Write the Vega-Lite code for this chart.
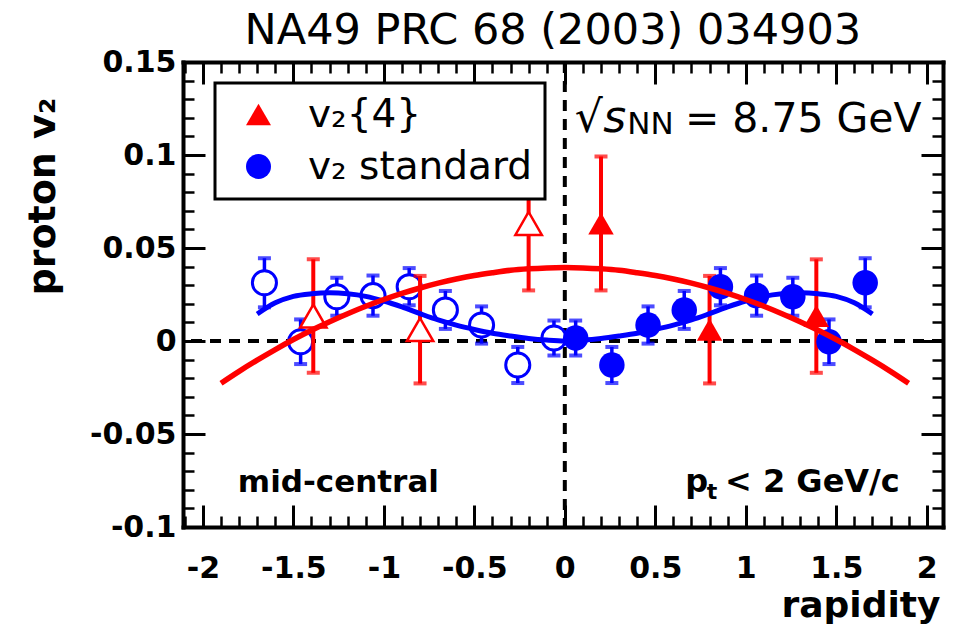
{
  "$schema": "https://vega.github.io/schema/vega-lite/v6.json",
  "width": 760,
  "height": 465,
  "autosize": {"type": "none"},
  "padding": {"left": 183, "top": 62, "right": 15, "bottom": 104},
  "background": "white",
  "config": {
    "view": {"stroke": null},
    "font": "DejaVu Sans",
    "axis": {"grid": false, "domainColor": "black", "tickColor": "black", "labelColor": "black", "titleColor": "black", "labelFlush": false, "labelOverlap": false, "domainCap": "square"},
    "legend": {"orient": "none", "legendX": 32, "legendY": 21, "strokeColor": "black", "strokeWidth": 3, "fillColor": "white", "padding": 12, "labelFont": "DejaVu Sans", "labelFontSize": 39, "labelColor": "black", "symbolSize": 625, "labelOffset": 30, "rowPadding": 12, "symbolStrokeWidth": 0, "labelLimit": 0, "symbolOffset": 12}
  },
  "datasets": {
    "pts": [
      {"series": "v₂ standard", "x": 0.06, "y": 0.0016, "err": 0.0094, "reflected": false},
      {"series": "v₂ standard", "x": 0.26, "y": -0.0129, "err": 0.0097, "reflected": false},
      {"series": "v₂ standard", "x": 0.46, "y": 0.0086, "err": 0.0100, "reflected": false},
      {"series": "v₂ standard", "x": 0.66, "y": 0.0167, "err": 0.0102, "reflected": false},
      {"series": "v₂ standard", "x": 0.86, "y": 0.0292, "err": 0.0100, "reflected": false},
      {"series": "v₂ standard", "x": 1.06, "y": 0.0244, "err": 0.0108, "reflected": false},
      {"series": "v₂ standard", "x": 1.26, "y": 0.0238, "err": 0.0102, "reflected": false},
      {"series": "v₂ standard", "x": 1.46, "y": -0.0004, "err": 0.0120, "reflected": false},
      {"series": "v₂ standard", "x": 1.66, "y": 0.0313, "err": 0.0132, "reflected": false},
      {"series": "v₂ standard", "x": -0.06, "y": 0.0016, "err": 0.0094, "reflected": true},
      {"series": "v₂ standard", "x": -0.26, "y": -0.0129, "err": 0.0097, "reflected": true},
      {"series": "v₂ standard", "x": -0.46, "y": 0.0086, "err": 0.0100, "reflected": true},
      {"series": "v₂ standard", "x": -0.66, "y": 0.0167, "err": 0.0102, "reflected": true},
      {"series": "v₂ standard", "x": -0.86, "y": 0.0292, "err": 0.0100, "reflected": true},
      {"series": "v₂ standard", "x": -1.06, "y": 0.0244, "err": 0.0108, "reflected": true},
      {"series": "v₂ standard", "x": -1.26, "y": 0.0238, "err": 0.0102, "reflected": true},
      {"series": "v₂ standard", "x": -1.46, "y": -0.0004, "err": 0.0120, "reflected": true},
      {"series": "v₂ standard", "x": -1.66, "y": 0.0313, "err": 0.0132, "reflected": true},
      {"series": "v₂{4}", "x": 0.2, "y": 0.0632, "err": 0.0360, "reflected": false},
      {"series": "v₂{4}", "x": 0.8, "y": 0.0061, "err": 0.0289, "reflected": false},
      {"series": "v₂{4}", "x": 1.39, "y": 0.0134, "err": 0.0305, "reflected": false},
      {"series": "v₂{4}", "x": -0.2, "y": 0.0632, "err": 0.0360, "reflected": true},
      {"series": "v₂{4}", "x": -0.8, "y": 0.0061, "err": 0.0289, "reflected": true},
      {"series": "v₂{4}", "x": -1.39, "y": 0.0134, "err": 0.0305, "reflected": true}
    ],
    "redfit": [
      {"x": -1.9, "y": -0.0227}, {"x": -1.8, "y": -0.0163}, {"x": -1.7, "y": -0.0103}, {"x": -1.6, "y": -0.0046},
      {"x": -1.5, "y": 0.0008}, {"x": -1.4, "y": 0.0058}, {"x": -1.3, "y": 0.0104}, {"x": -1.2, "y": 0.0147},
      {"x": -1.1, "y": 0.0187}, {"x": -1.0, "y": 0.0223}, {"x": -0.9, "y": 0.0256}, {"x": -0.8, "y": 0.0285},
      {"x": -0.7, "y": 0.0311}, {"x": -0.6, "y": 0.0333}, {"x": -0.5, "y": 0.0352}, {"x": -0.4, "y": 0.0367},
      {"x": -0.3, "y": 0.0380}, {"x": -0.2, "y": 0.0388}, {"x": -0.1, "y": 0.0393}, {"x": 0.0, "y": 0.0395},
      {"x": 0.1, "y": 0.0393}, {"x": 0.2, "y": 0.0388}, {"x": 0.3, "y": 0.0380}, {"x": 0.4, "y": 0.0367},
      {"x": 0.5, "y": 0.0352}, {"x": 0.6, "y": 0.0333}, {"x": 0.7, "y": 0.0311}, {"x": 0.8, "y": 0.0285},
      {"x": 0.9, "y": 0.0256}, {"x": 1.0, "y": 0.0223}, {"x": 1.1, "y": 0.0187}, {"x": 1.2, "y": 0.0147},
      {"x": 1.3, "y": 0.0104}, {"x": 1.4, "y": 0.0058}, {"x": 1.5, "y": 0.0008}, {"x": 1.6, "y": -0.0046},
      {"x": 1.7, "y": -0.0103}, {"x": 1.8, "y": -0.0163}, {"x": 1.9, "y": -0.0227}
    ],
    "bluefit": [
      {"x": -1.7, "y": 0.0145}, {"x": -1.6, "y": 0.0205}, {"x": -1.5, "y": 0.0240}, {"x": -1.4, "y": 0.0254},
      {"x": -1.3, "y": 0.0259}, {"x": -1.2, "y": 0.0254}, {"x": -1.1, "y": 0.0240}, {"x": -1.0, "y": 0.0215},
      {"x": -0.9, "y": 0.0183}, {"x": -0.8, "y": 0.0147}, {"x": -0.7, "y": 0.0113}, {"x": -0.6, "y": 0.0085},
      {"x": -0.5, "y": 0.0062}, {"x": -0.4, "y": 0.0042}, {"x": -0.3, "y": 0.0027}, {"x": -0.2, "y": 0.0014},
      {"x": -0.1, "y": 0.0005}, {"x": 0.0, "y": 0.0000}, {"x": 0.1, "y": 0.0005}, {"x": 0.2, "y": 0.0014},
      {"x": 0.3, "y": 0.0027}, {"x": 0.4, "y": 0.0042}, {"x": 0.5, "y": 0.0062}, {"x": 0.6, "y": 0.0085},
      {"x": 0.7, "y": 0.0113}, {"x": 0.8, "y": 0.0147}, {"x": 0.9, "y": 0.0183}, {"x": 1.0, "y": 0.0215},
      {"x": 1.1, "y": 0.0240}, {"x": 1.2, "y": 0.0254}, {"x": 1.3, "y": 0.0259}, {"x": 1.4, "y": 0.0254},
      {"x": 1.5, "y": 0.0240}, {"x": 1.6, "y": 0.0205}, {"x": 1.7, "y": 0.0145}
    ],
    "one": [{}]
  },
  "resolve": {"axis": {"x": "independent", "y": "independent"}},
  "layer": [
    {
      "data": {"name": "one"},
      "mark": {"type": "rule", "strokeDash": [11, 8], "strokeWidth": 4, "color": "black"},
      "encoding": {"y": {"datum": 0, "type": "quantitative", "scale": {"domain": [-0.1, 0.15], "nice": false, "zero": false}, "axis": null}}
    },
    {
      "data": {"name": "one"},
      "mark": {"type": "rule", "strokeDash": [11, 8], "strokeWidth": 4, "color": "black"},
      "encoding": {"x": {"datum": 0, "type": "quantitative", "scale": {"domain": [-2.11, 2.09], "nice": false, "zero": false}, "axis": null}}
    },
    {
      "data": {"name": "pts"},
      "transform": [{"filter": "datum.series === 'v₂ standard'"}],
      "mark": {"type": "errorbar", "color": "#0000ff", "ticks": {"size": 13, "thickness": 4, "color": "#0000ff"}, "rule": {"strokeWidth": 3.5, "color": "#0000ff"}},
      "encoding": {
        "x": {"field": "x", "type": "quantitative", "scale": {"domain": [-2.11, 2.09], "nice": false, "zero": false}, "axis": null},
        "y": {"field": "y", "type": "quantitative", "scale": {"domain": [-0.1, 0.15], "nice": false, "zero": false}, "axis": null},
        "yError": {"field": "err"}
      }
    },
    {
      "data": {"name": "pts"},
      "transform": [{"filter": "datum.series === 'v₂ standard' && datum.reflected"}],
      "mark": {"type": "point", "shape": "circle", "size": 580, "filled": false, "fill": "white", "fillOpacity": 1, "stroke": "#0000ff", "strokeWidth": 3, "opacity": 1},
      "encoding": {
        "x": {"field": "x", "type": "quantitative", "scale": {"domain": [-2.11, 2.09], "nice": false, "zero": false}, "axis": null},
        "y": {"field": "y", "type": "quantitative", "scale": {"domain": [-0.1, 0.15], "nice": false, "zero": false}, "axis": null}
      }
    },
    {
      "data": {"name": "pts"},
      "transform": [{"filter": "datum.series === 'v₂{4}'"}],
      "mark": {"type": "errorbar", "color": "#ff0000", "ticks": {"size": 13, "thickness": 4, "color": "#ff0000"}, "rule": {"strokeWidth": 4, "color": "#ff0000"}},
      "encoding": {
        "x": {"field": "x", "type": "quantitative", "scale": {"domain": [-2.11, 2.09], "nice": false, "zero": false}, "axis": null},
        "y": {"field": "y", "type": "quantitative", "scale": {"domain": [-0.1, 0.15], "nice": false, "zero": false}, "axis": null},
        "yError": {"field": "err"}
      }
    },
    {
      "data": {"name": "pts"},
      "transform": [{"filter": "!datum.reflected"}],
      "mark": {"type": "point", "filled": true, "size": 650, "opacity": 1},
      "encoding": {
        "x": {"field": "x", "type": "quantitative", "scale": {"domain": [-2.11, 2.09], "nice": false, "zero": false}, "axis": null},
        "y": {"field": "y", "type": "quantitative", "scale": {"domain": [-0.1, 0.15], "nice": false, "zero": false}, "axis": null},
        "color": {"field": "series", "type": "nominal", "scale": {"domain": ["v₂{4}", "v₂ standard"], "range": ["#ff0000", "#0000ff"]}, "legend": {"title": null}},
        "shape": {"field": "series", "type": "nominal", "scale": {"domain": ["v₂{4}", "v₂ standard"], "range": ["triangle-up", "circle"]}, "legend": {"title": null}}
      }
    },
    {
      "data": {"name": "pts"},
      "transform": [{"filter": "datum.series === 'v₂{4}' && datum.reflected"}],
      "mark": {"type": "point", "shape": "triangle-up", "size": 700, "filled": false, "fill": "white", "fillOpacity": 1, "stroke": "#ff0000", "strokeWidth": 2.5, "opacity": 1},
      "encoding": {
        "x": {"field": "x", "type": "quantitative", "scale": {"domain": [-2.11, 2.09], "nice": false, "zero": false}, "axis": null},
        "y": {"field": "y", "type": "quantitative", "scale": {"domain": [-0.1, 0.15], "nice": false, "zero": false}, "axis": null}
      }
    },
    {
      "data": {"name": "bluefit"},
      "mark": {"type": "line", "color": "#0000ff", "strokeWidth": 5, "interpolate": "monotone"},
      "encoding": {
        "x": {"field": "x", "type": "quantitative", "scale": {"domain": [-2.11, 2.09], "nice": false, "zero": false}, "axis": null},
        "y": {"field": "y", "type": "quantitative", "scale": {"domain": [-0.1, 0.15], "nice": false, "zero": false}, "axis": null}
      }
    },
    {
      "data": {"name": "redfit"},
      "mark": {"type": "line", "color": "#ff0000", "strokeWidth": 5.5, "interpolate": "monotone"},
      "encoding": {
        "x": {"field": "x", "type": "quantitative", "scale": {"domain": [-2.11, 2.09], "nice": false, "zero": false}, "axis": null},
        "y": {"field": "y", "type": "quantitative", "scale": {"domain": [-0.1, 0.15], "nice": false, "zero": false}, "axis": null}
      }
    },
    {
      "data": {"name": "one"},
      "mark": {"type": "text", "text": "NA49 PRC 68 (2003) 034903", "font": "DejaVu Sans", "fontSize": 43, "align": "center", "baseline": "alphabetic", "color": "black"},
      "encoding": {
        "x": {"datum": -0.066, "type": "quantitative", "scale": {"domain": [-2.11, 2.09], "nice": false, "zero": false}, "axis": null},
        "y": {"datum": 0.1597, "type": "quantitative", "scale": {"domain": [-0.1, 0.15], "nice": false, "zero": false}, "axis": null}
      }
    },
    {
      "data": {"name": "one"},
      "mark": {"type": "text", "text": "mid-central", "font": "DejaVu Sans", "fontWeight": "bold", "fontSize": 31, "align": "left", "baseline": "alphabetic", "color": "black"},
      "encoding": {
        "x": {"datum": -1.807, "type": "quantitative", "scale": {"domain": [-2.11, 2.09], "nice": false, "zero": false}, "axis": null},
        "y": {"datum": -0.0812, "type": "quantitative", "scale": {"domain": [-0.1, 0.15], "nice": false, "zero": false}, "axis": null}
      }
    },
    {
      "data": {"name": "one"},
      "mark": {"type": "text", "text": "p", "font": "DejaVu Sans", "fontWeight": "bold", "fontSize": 32, "align": "left", "baseline": "alphabetic", "color": "black"},
      "encoding": {
        "x": {"datum": 0.665, "type": "quantitative", "scale": {"domain": [-2.11, 2.09], "nice": false, "zero": false}, "axis": null},
        "y": {"datum": -0.0812, "type": "quantitative", "scale": {"domain": [-0.1, 0.15], "nice": false, "zero": false}, "axis": null}
      }
    },
    {
      "data": {"name": "one"},
      "mark": {"type": "text", "text": "t", "font": "DejaVu Sans", "fontWeight": "bold", "fontSize": 22, "align": "left", "baseline": "alphabetic", "color": "black"},
      "encoding": {
        "x": {"datum": 0.785, "type": "quantitative", "scale": {"domain": [-2.11, 2.09], "nice": false, "zero": false}, "axis": null},
        "y": {"datum": -0.0852, "type": "quantitative", "scale": {"domain": [-0.1, 0.15], "nice": false, "zero": false}, "axis": null}
      }
    },
    {
      "data": {"name": "one"},
      "mark": {"type": "text", "text": "< 2 GeV/c", "font": "DejaVu Sans", "fontWeight": "bold", "fontSize": 32, "align": "right", "baseline": "alphabetic", "color": "black"},
      "encoding": {
        "x": {"datum": 1.851, "type": "quantitative", "scale": {"domain": [-2.11, 2.09], "nice": false, "zero": false}, "axis": null},
        "y": {"datum": -0.0812, "type": "quantitative", "scale": {"domain": [-0.1, 0.15], "nice": false, "zero": false}, "axis": null}
      }
    },
    {
      "data": {"name": "one"},
      "mark": {"type": "text", "text": "√", "font": "DejaVu Sans", "fontSize": 44, "align": "left", "baseline": "alphabetic", "color": "black"},
      "encoding": {
        "x": {"datum": 0.055, "type": "quantitative", "scale": {"domain": [-2.11, 2.09], "nice": false, "zero": false}, "axis": null},
        "y": {"datum": 0.1124, "type": "quantitative", "scale": {"domain": [-0.1, 0.15], "nice": false, "zero": false}, "axis": null}
      }
    },
    {
      "data": {"name": "one"},
      "mark": {"type": "text", "text": "s", "font": "DejaVu Sans", "fontStyle": "italic", "fontSize": 44, "align": "left", "baseline": "alphabetic", "color": "black"},
      "encoding": {
        "x": {"datum": 0.212, "type": "quantitative", "scale": {"domain": [-2.11, 2.09], "nice": false, "zero": false}, "axis": null},
        "y": {"datum": 0.1124, "type": "quantitative", "scale": {"domain": [-0.1, 0.15], "nice": false, "zero": false}, "axis": null}
      }
    },
    {
      "data": {"name": "one"},
      "mark": {"type": "text", "text": "NN", "font": "DejaVu Sans", "fontSize": 31, "align": "left", "baseline": "alphabetic", "color": "black"},
      "encoding": {
        "x": {"datum": 0.345, "type": "quantitative", "scale": {"domain": [-2.11, 2.09], "nice": false, "zero": false}, "axis": null},
        "y": {"datum": 0.1113, "type": "quantitative", "scale": {"domain": [-0.1, 0.15], "nice": false, "zero": false}, "axis": null}
      }
    },
    {
      "data": {"name": "one"},
      "mark": {"type": "text", "text": "= 8.75 GeV", "font": "DejaVu Sans", "fontSize": 41, "align": "right", "baseline": "alphabetic", "color": "black"},
      "encoding": {
        "x": {"datum": 1.972, "type": "quantitative", "scale": {"domain": [-2.11, 2.09], "nice": false, "zero": false}, "axis": null},
        "y": {"datum": 0.1124, "type": "quantitative", "scale": {"domain": [-0.1, 0.15], "nice": false, "zero": false}, "axis": null}
      }
    },
    {
      "data": {"name": "pts"},
      "mark": {"type": "point", "opacity": 0},
      "encoding": {
        "x": {"field": "x", "type": "quantitative", "scale": {"domain": [-2.11, 2.09], "nice": false, "zero": false},
          "axis": {"orient": "bottom", "values": [-2, -1.5, -1, -0.5, 0, 0.5, 1, 1.5, 2], "tickSize": -22, "tickWidth": 3, "domainWidth": 4,
            "labelFont": "DejaVu Sans", "labelFontWeight": "bold", "labelFontSize": 30, "labelPadding": 48,
            "labelExpr": "replace(format(datum.value, '~g'), '−', '-')",
            "title": "rapidity", "titleFont": "DejaVu Sans", "titleFontSize": 36, "titleFontWeight": "bold", "titleAlign": "right", "titleAnchor": "end", "titleX": 757, "titleY": 89, "titleBaseline": "alphabetic"}},
        "y": {"field": "y", "type": "quantitative", "scale": {"domain": [-0.1, 0.15], "nice": false, "zero": false},
          "axis": {"orient": "left", "values": [-0.1, -0.05, 0, 0.05, 0.1, 0.15], "tickSize": -22, "tickWidth": 3, "domainWidth": 4,
            "labelFont": "DejaVu Sans", "labelFontWeight": "bold", "labelFontSize": 30, "labelPadding": 29, "labelBaseline": "middle",
            "labelExpr": "replace(format(datum.value, '~g'), '−', '-')",
            "title": "proton v₂", "titleFont": "DejaVu Sans", "titleFontSize": 38, "titleFontWeight": "bold", "titleAngle": -90, "titleAlign": "center", "titleBaseline": "middle", "titleX": -140, "titleY": 134}}
      }
    },
    {
      "data": {"name": "pts"},
      "mark": {"type": "point", "opacity": 0},
      "encoding": {
        "x": {"field": "x", "type": "quantitative", "scale": {"domain": [-2.11, 2.09], "nice": false, "zero": false},
          "axis": {"orient": "bottom", "values": [-2.1, -2, -1.9, -1.8, -1.7, -1.6, -1.5, -1.4, -1.3, -1.2, -1.1, -1, -0.9, -0.8, -0.7, -0.6, -0.5, -0.4, -0.3, -0.2, -0.1, 0, 0.1, 0.2, 0.3, 0.4, 0.5, 0.6, 0.7, 0.8, 0.9, 1, 1.1, 1.2, 1.3, 1.4, 1.5, 1.6, 1.7, 1.8, 1.9, 2], "tickSize": -11, "tickWidth": 2.5, "domain": false, "labels": false, "title": null}},
        "y": {"field": "y", "type": "quantitative", "scale": {"domain": [-0.1, 0.15], "nice": false, "zero": false},
          "axis": {"orient": "left", "values": [-0.1, -0.09, -0.08, -0.07, -0.06, -0.05, -0.04, -0.03, -0.02, -0.01, 0, 0.01, 0.02, 0.03, 0.04, 0.05, 0.06, 0.07, 0.08, 0.09, 0.1, 0.11, 0.12, 0.13, 0.14, 0.15], "tickSize": -11, "tickWidth": 2.5, "domain": false, "labels": false, "title": null}}
      }
    },
    {
      "data": {"name": "pts"},
      "mark": {"type": "point", "opacity": 0},
      "encoding": {
        "x": {"field": "x", "type": "quantitative", "scale": {"domain": [-2.11, 2.09], "nice": false, "zero": false},
          "axis": {"orient": "top", "values": [-2, -1.5, -1, -0.5, 0, 0.5, 1, 1.5, 2], "tickSize": -22, "tickWidth": 3, "domainWidth": 4, "labels": false, "title": null}},
        "y": {"field": "y", "type": "quantitative", "scale": {"domain": [-0.1, 0.15], "nice": false, "zero": false},
          "axis": {"orient": "right", "values": [-0.1, -0.05, 0, 0.05, 0.1, 0.15], "tickSize": -22, "tickWidth": 3, "domainWidth": 4, "labels": false, "title": null}}
      }
    },
    {
      "data": {"name": "pts"},
      "mark": {"type": "point", "opacity": 0},
      "encoding": {
        "x": {"field": "x", "type": "quantitative", "scale": {"domain": [-2.11, 2.09], "nice": false, "zero": false},
          "axis": {"orient": "top", "values": [-2.1, -2, -1.9, -1.8, -1.7, -1.6, -1.5, -1.4, -1.3, -1.2, -1.1, -1, -0.9, -0.8, -0.7, -0.6, -0.5, -0.4, -0.3, -0.2, -0.1, 0, 0.1, 0.2, 0.3, 0.4, 0.5, 0.6, 0.7, 0.8, 0.9, 1, 1.1, 1.2, 1.3, 1.4, 1.5, 1.6, 1.7, 1.8, 1.9, 2], "tickSize": -11, "tickWidth": 2.5, "domain": false, "labels": false, "title": null}},
        "y": {"field": "y", "type": "quantitative", "scale": {"domain": [-0.1, 0.15], "nice": false, "zero": false},
          "axis": {"orient": "right", "values": [-0.1, -0.09, -0.08, -0.07, -0.06, -0.05, -0.04, -0.03, -0.02, -0.01, 0, 0.01, 0.02, 0.03, 0.04, 0.05, 0.06, 0.07, 0.08, 0.09, 0.1, 0.11, 0.12, 0.13, 0.14, 0.15], "tickSize": -11, "tickWidth": 2.5, "domain": false, "labels": false, "title": null}}
      }
    }
  ]
}
